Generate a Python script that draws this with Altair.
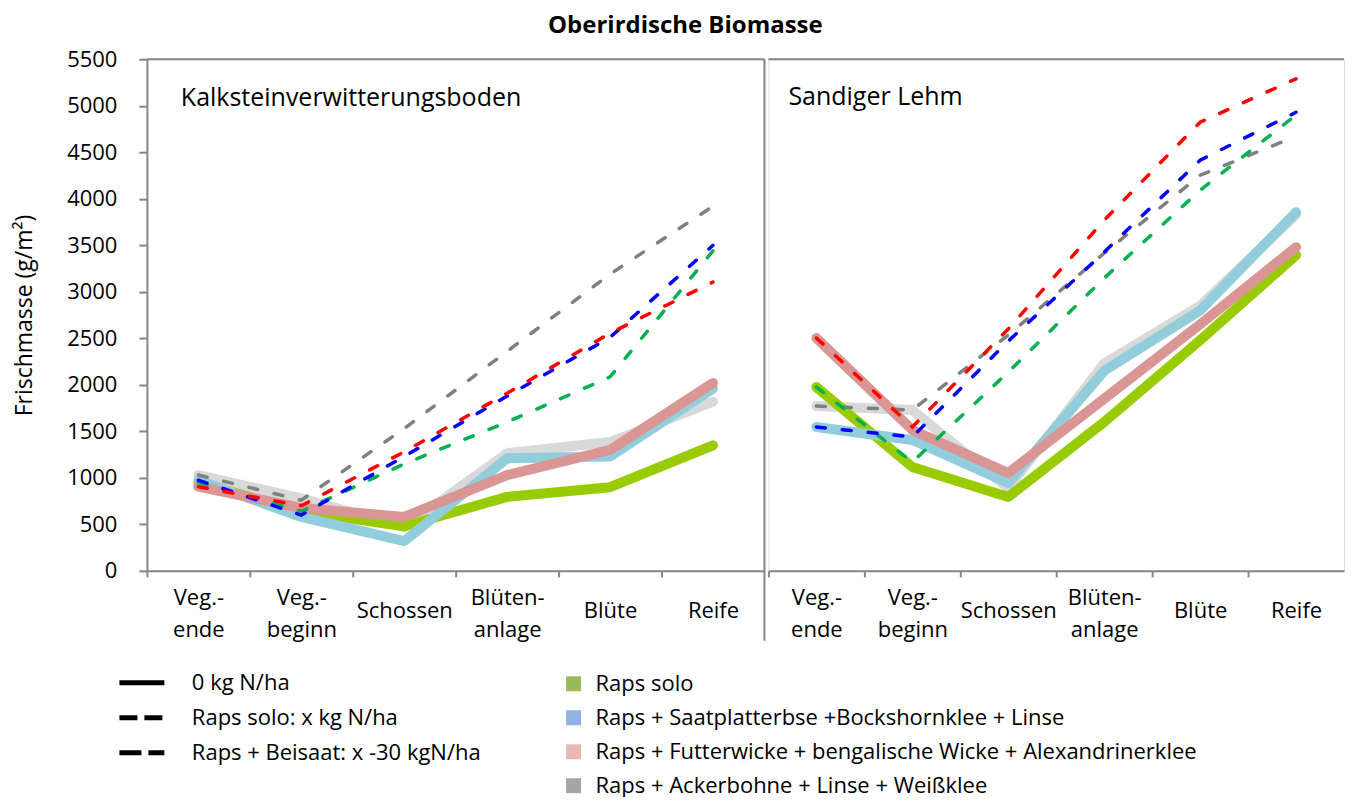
import altair as alt
import pandas as pd

# ---------------- data ----------------
stages = ["Veg.-|ende", "Veg.-|beginn", "Schossen", "Blüten-|anlage", "Blüte", "Reife"]
mixtures = [
    "Raps solo",
    "Raps + Saatplatterbse +Bockshornklee + Linse",
    "Raps + Futterwicke + bengalische Wicke + Alexandrinerklee",
    "Raps + Ackerbohne + Linse + Weißklee",
]
treatments = ["0 kg N/ha", "Raps solo: x kg N/ha", "Raps + Beisaat: x -30 kgN/ha"]

legend_colors = ["#9BBB59", "#8DB4E2", "#E6B9B8", "#A6A6A6"]
solid_colors = ["#99CC00", "#92CDDC", "#DA9694", "#D9D9D9"]
dashed_colors = ["#00B050", "#0000FF", "#FF0000", "#808080"]

soils = ["Kalksteinverwitterungsboden", "Sandiger Lehm"]

# Kalksteinverwitterungsboden, 0 kg N/ha (solid)
k_solo_0 = [950, 640, 480, 795, 900, 1350]
k_saat_0 = [975, 580, 320, 1210, 1230, 1960]
k_futter_0 = [905, 676, 580, 1030, 1300, 2020]
k_acker_0 = [1030, 780, 470, 1265, 1385, 1820]
# Kalksteinverwitterungsboden, fertilised (dashed)
k_solo_n = [950, 640, 1150, 1600, 2085, 3440]
k_saat_n = [975, 600, 1230, 1880, 2510, 3500]
k_futter_n = [905, 700, 1280, 1910, 2555, 3105]
k_acker_n = [1030, 760, 1530, 2360, 3190, 3920]

# Sandiger Lehm, 0 kg N/ha (solid)
s_solo_0 = [1976, 1117, 795, 1600, 2480, 3394]
s_saat_0 = [1547, 1407, 945, 2150, 2800, 3856]
s_futter_0 = [2503, 1515, 1052, 1850, 2650, 3480]
s_acker_0 = [1772, 1729, 890, 2230, 2850, 3830]
# Sandiger Lehm, fertilised (dashed)
s_solo_n = [1976, 1170, 2137, 3147, 4092, 4900]
s_saat_n = [1547, 1440, 2470, 3426, 4415, 4930]
s_futter_n = [2503, 1547, 2600, 3770, 4823, 5290]
s_acker_n = [1772, 1729, 2535, 3415, 4253, 4672]

series = {
    soils[0]: {
        "solid": [k_solo_0, k_saat_0, k_futter_0, k_acker_0],
        "dashed": [k_solo_n, k_saat_n, k_futter_n, k_acker_n],
    },
    soils[1]: {
        "solid": [s_solo_0, s_saat_0, s_futter_0, s_acker_0],
        "dashed": [s_solo_n, s_saat_n, s_futter_n, s_acker_n],
    },
}

rows = []
for soil in soils:
    for kind in ["solid", "dashed"]:
        for i, vals in enumerate(series[soil][kind]):
            if kind == "solid":
                trt = treatments[0]
            else:
                trt = treatments[1] if i == 0 else treatments[2]
            for st, v in zip(stages, vals):
                rows.append(dict(soil=soil, kind=kind, mix=i, mixture=mixtures[i],
                                 treatment=trt, stage=st, value=v))
df = pd.DataFrame(rows)

FONT = "Open Sans"
AX = "#868686"
H = 512


def panel(soil, width, first, title_dx, title_dy):
    d = df[df.soil == soil]
    step = width / 6.0
    xaxis = alt.Axis(
        title=None, labelExpr="split(datum.label, '|')", labelAngle=0,
        labelAlign="center", labelBaseline="middle", labelFont=FONT,
        labelFontSize=22, labelLineHeight=32, labelColor="black",
        labelPadding={"condition": {"test": "indexof(datum.label, '|') < 0", "value": 34},
                      "value": 21},
        labelOverlap=False, labelFlush=False,
        tickSize=6, tickColor=AX, tickWidth=2, tickOffset=-step / 2,
        labelOffset=step / 2, domainColor=AX, domainWidth=2, grid=False,
    )
    x = alt.X("stage:N", sort=stages,
              scale=alt.Scale(type="point", domain=stages, padding=0.5),
              axis=xaxis)
    if first:
        yaxis = alt.Axis(
            title="Frischmasse (g/m²)", titleFont=FONT, titleFontSize=23,
            titleFontWeight="normal", titleColor="black", titlePadding=30,
            values=list(range(0, 5501, 500)), format="d", labelFont=FONT,
            labelFontSize=22, labelColor="black", labelPadding=22, tickSize=8,
            tickColor=AX, tickWidth=2, domainColor=AX, domainWidth=2, grid=False,
        )
        y = alt.Y("value:Q", scale=alt.Scale(domain=[0, 5500], nice=False), axis=yaxis)
    else:
        y = alt.Y("value:Q", scale=alt.Scale(domain=[0, 5500], nice=False), axis=None)

    layers = []
    for i in [3, 0, 1, 2]:
        sub = d[(d.kind == "solid") & (d.mix == i)]
        layers.append(
            alt.Chart(sub).mark_line(color=solid_colors[i], strokeWidth=10,
                                     strokeCap="round", strokeJoin="round")
            .encode(x=x, y=y)
        )
    for i in [3, 0, 1, 2]:
        sub = d[(d.kind == "dashed") & (d.mix == i)]
        layers.append(
            alt.Chart(sub).mark_line(color=dashed_colors[i], strokeWidth=3.5,
                                     strokeDash=[9, 17], strokeCap="round")
            .encode(x=x, y=y)
        )
    if first:
        dash_leg = alt.Chart(d).mark_line(color="black", opacity=0, strokeWidth=5).encode(
            x=x, y=y, detail="mixture:N",
            strokeDash=alt.StrokeDash(
                "treatment:N", title=None,
                scale=alt.Scale(domain=treatments, range=[[1, 0], [18, 7], [22, 7]]),
                legend=alt.Legend(
                    orient="none", legendX=-19, legendY=610, direction="vertical",
                    symbolType="M-2,0H2", symbolSize=506, symbolStrokeWidth=5,
                    symbolStrokeColor="black", labelFont=FONT, labelFontSize=22,
                    labelColor="black", labelOffset=36, rowPadding=10,
                    labelLimit=1000, padding=0,
                ),
            ),
        )
        fill_leg = alt.Chart(d).mark_square(opacity=0, filled=True).encode(
            x=x, y=y,
            fill=alt.Fill(
                "mixture:N", title=None,
                scale=alt.Scale(domain=mixtures, range=legend_colors),
                legend=alt.Legend(
                    orient="none", legendX=416, legendY=614, direction="vertical",
                    symbolType="square", symbolSize=225, symbolStrokeWidth=0,
                    labelFont=FONT, labelFontSize=22, labelColor="black",
                    labelOffset=11, rowPadding=12, labelLimit=1000, padding=0,
                ),
            ),
        )
        layers += [dash_leg, fill_leg]

    # panel title inside plot area
    layers.append(
        alt.Chart(pd.DataFrame({"t": [soil]})).mark_text(
            align="left", baseline="middle", font=FONT, fontSize=25, color="black"
        ).encode(x=alt.value(title_dx), y=alt.value(title_dy), text="t:N")
    )
    # frame lines
    frame = pd.DataFrame({"a": [0]})
    layers.append(
        alt.Chart(frame).mark_rule(color=AX, strokeWidth=2)
        .encode(x=alt.value(0), x2=alt.value(width), y=alt.value(0))
    )
    if first:
        layers.append(
            alt.Chart(frame).mark_rule(color=AX, strokeWidth=2)
            .encode(x=alt.value(width), y=alt.value(0), y2=alt.value(H + 70))
        )
    return alt.layer(*layers).properties(width=width, height=H)


left = panel(soils[0], 618, True, 34, 39)
right = panel(soils[1], 576, False, 20, 38)

chart = (
    alt.hconcat(left, right, spacing=0)
    .properties(
        title=alt.Title("Oberirdische Biomasse", font=FONT, fontSize=24,
                        fontWeight="bold", color="black", anchor="middle",
                        offset=10, dx=6),
        padding={"left": 5, "top": 5, "right": 0, "bottom": 0},
    )
    .configure_view(stroke="transparent")
    .configure(font=FONT)
)

chart.save("out.html", embed_options={"renderer": "svg", "actions": False})
